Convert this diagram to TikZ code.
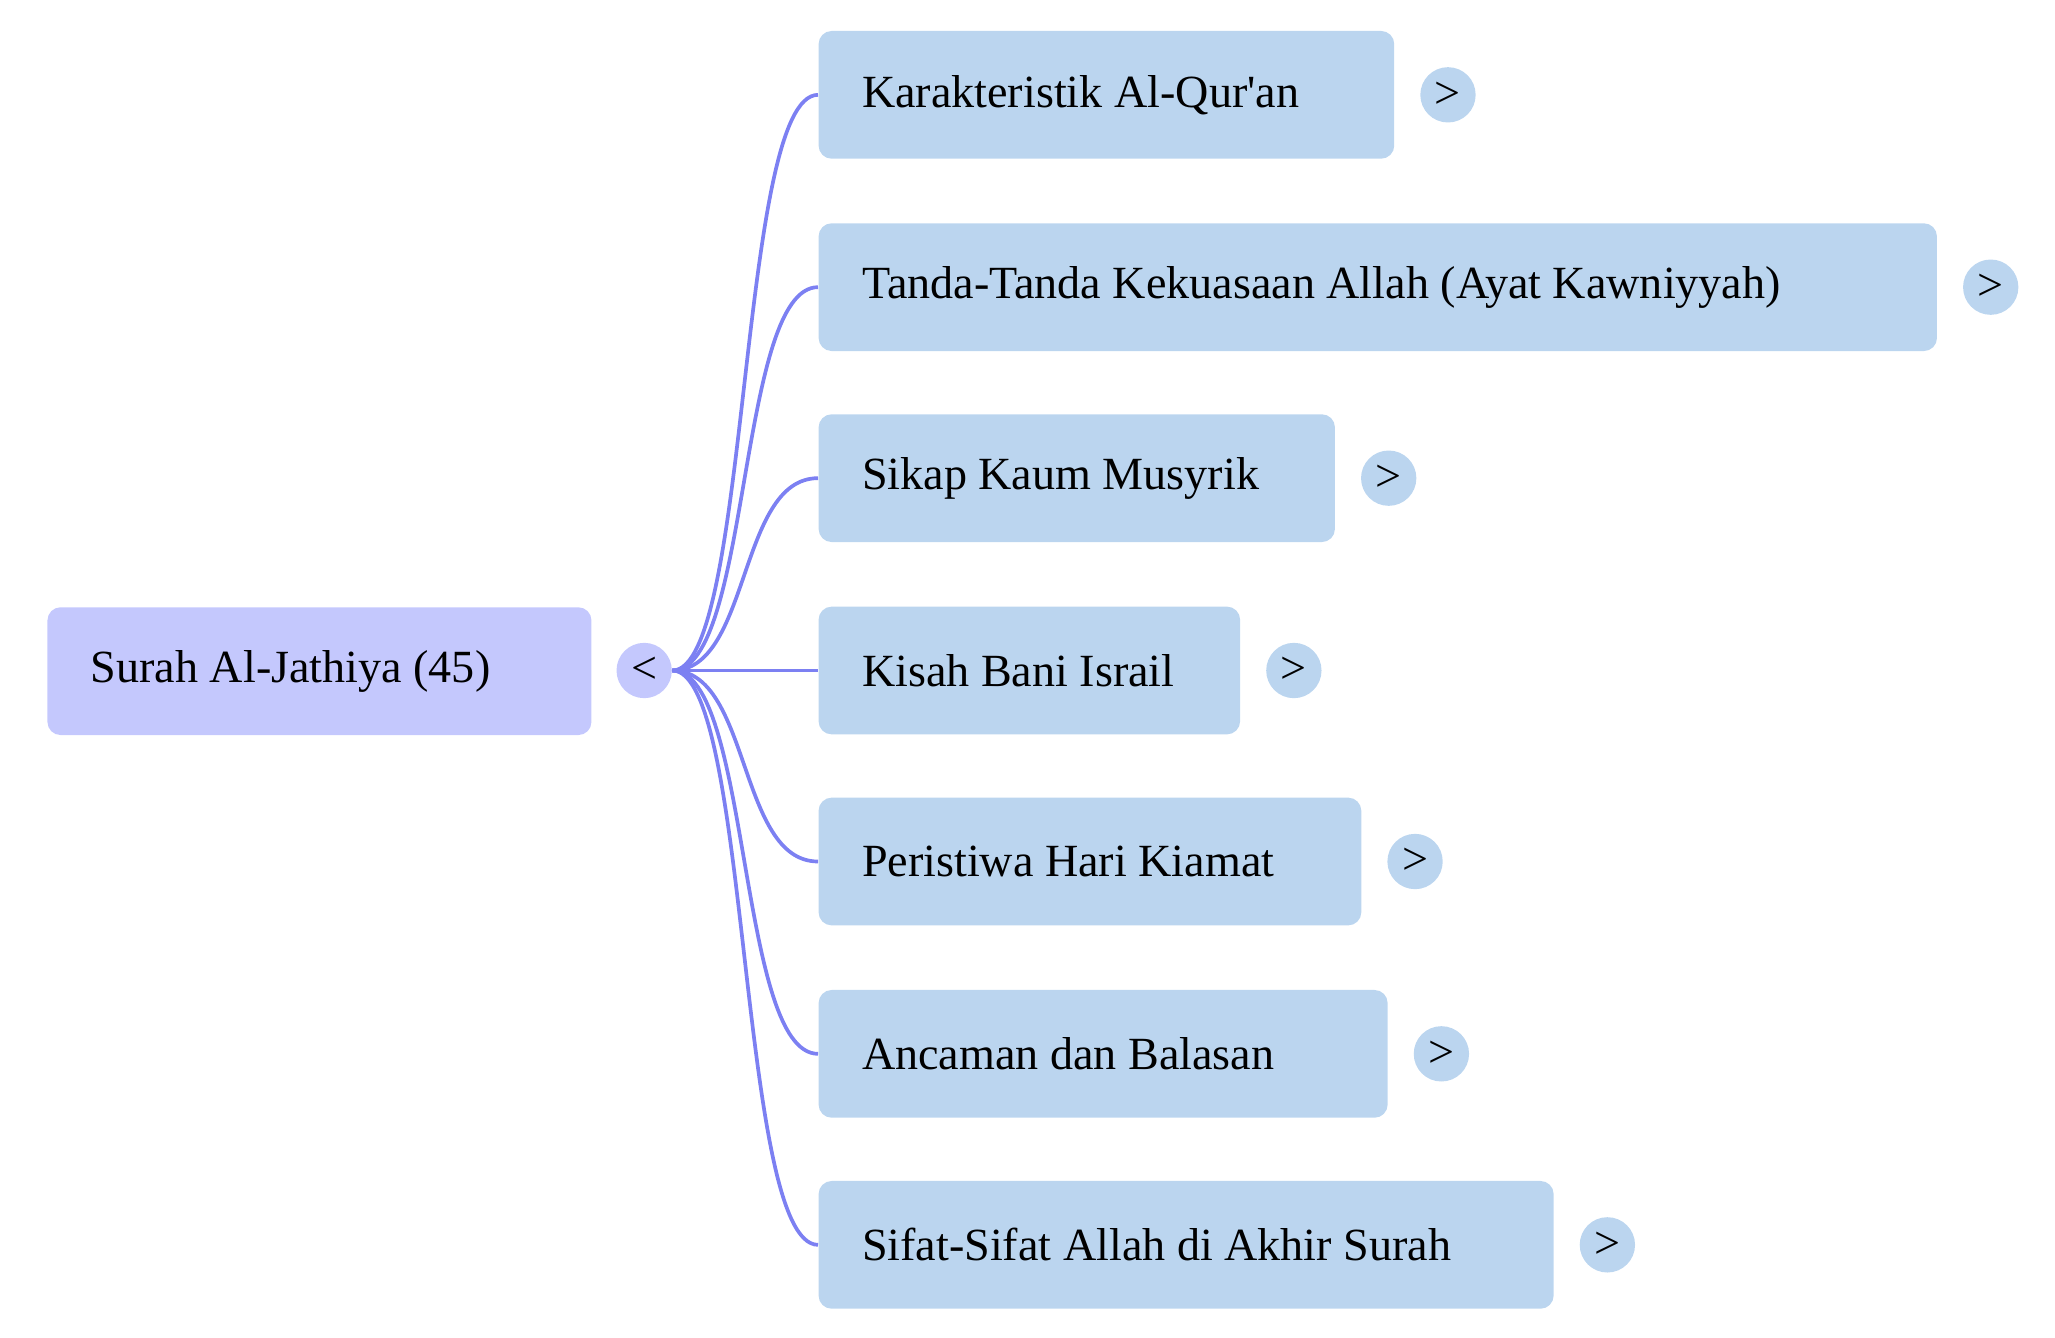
\documentclass[tikz,border=0pt]{standalone}
\usepackage{fontspec}
\setmainfont{Liberation Serif}
\usetikzlibrary{positioning}
\definecolor{rootfill}{HTML}{C4C8FD}
\definecolor{topicfill}{HTML}{BBD5EF}
\definecolor{linkline}{HTML}{7C80F2}
\tikzset{
  root/.style={fill=rootfill, rounded corners=5pt, minimum height=48.5pt, inner sep=0pt},
  topic/.style={fill=topicfill, rounded corners=5pt, minimum height=48.5pt, inner sep=0pt},
  label/.style={anchor=west, inner sep=0pt, xshift=16.5pt},
  knob/.style={circle, minimum size=21pt, inner sep=0pt},
  link/.style={linkline, line width=1.4pt}
}
\begin{document}
\begin{tikzpicture}[font=\fontsize{17.5}{21}\selectfont, x=0.5pt, y=-0.5pt]
\useasboundingbox (0,0) rectangle (1560,1015);

\node[root, minimum width=206.5pt] (root) at (242.5,509.5) {};
\node[label] at (root.west) {Surah Al-Jathiya (45)};
\node[knob, fill=rootfill] (hub) at (489,509) {<};

\foreach \y/\r/\txt [count=\i] in {
  72/1058/Karakteristik Al-Qur\textquotesingle an,
  218/1470/Tanda-Tanda Kekuasaan Allah (Ayat Kawniyyah),
  363/1013/Sikap Kaum Musyrik,
  509/941/Kisah Bani Israil,
  654/1033/Peristiwa Hari Kiamat,
  800/1053/Ancaman dan Balasan,
  945/1179/Sifat-Sifat Allah di Akhir Surah}{
  \node[topic, minimum width={(\r-621)*0.5pt}, anchor=west] (t\i) at (621,\y) {};
  \node[label] at (t\i.west) {\txt};
  \node[knob, fill=topicfill, right=9.5pt of t\i] (k\i) {>};
  \draw[link] (hub.east) .. controls (570,509) and (560,\y) .. (t\i.west);
}

\end{tikzpicture}
\end{document}
